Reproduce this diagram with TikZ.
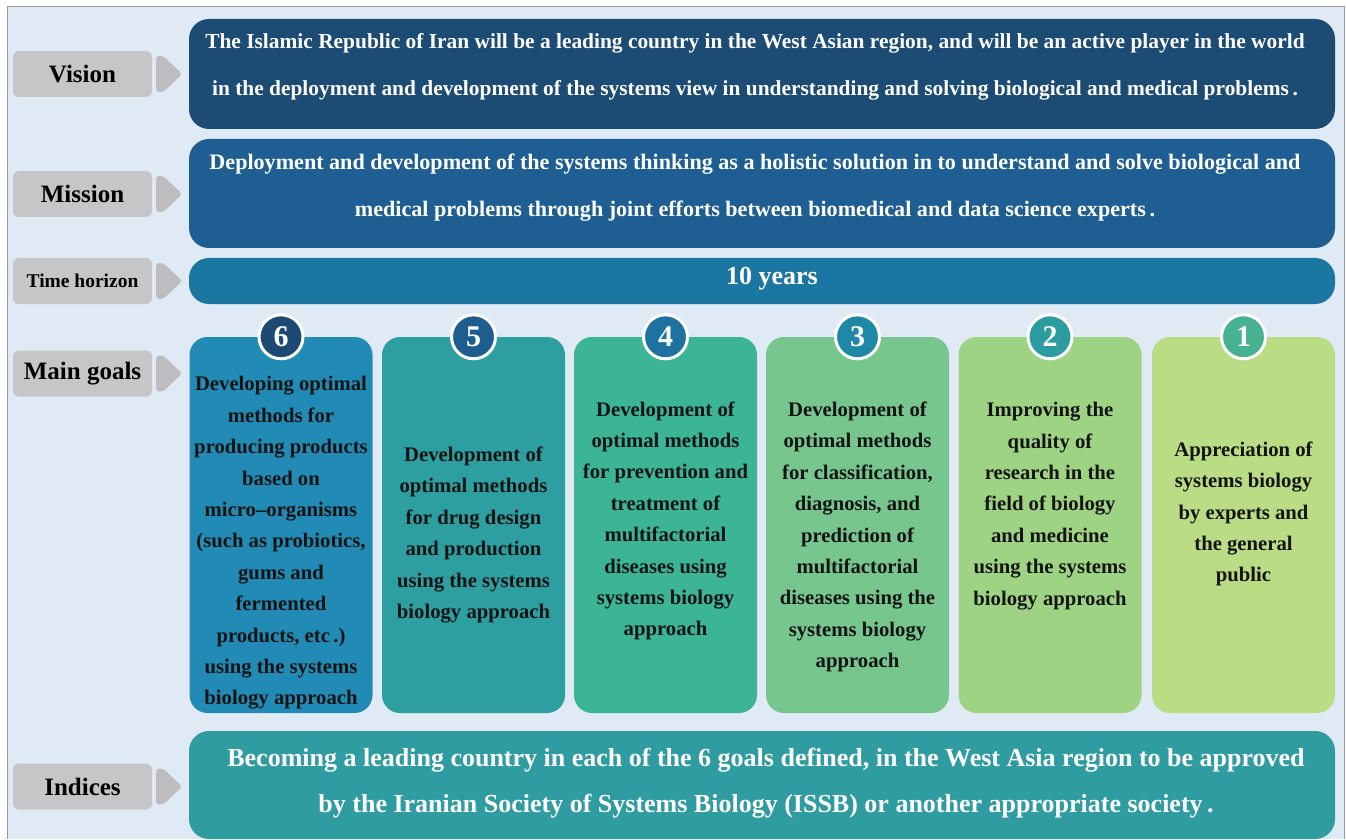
\documentclass[tikz,border=0pt]{standalone}
\usepackage{fontspec}
\setmainfont{Liberation Serif}
\begin{document}
\definecolor{pagebg}{HTML}{DFEAF5}
\definecolor{labgray}{HTML}{C6C6C8}
\definecolor{arrgray}{HTML}{BDBDBF}
\definecolor{cvision}{HTML}{1C4B74}
\definecolor{cmission}{HTML}{1F5E92}
\definecolor{ctime}{HTML}{1B76A1}
\definecolor{cgsix}{HTML}{218AB5}
\definecolor{cgfive}{HTML}{2E9FA1}
\definecolor{cgfour}{HTML}{3CB496}
\definecolor{cgthree}{HTML}{76C68E}
\definecolor{cgtwo}{HTML}{9FD384}
\definecolor{cgone}{HTML}{BADC84}
\definecolor{cnsix}{HTML}{1C4A75}
\definecolor{cnfive}{HTML}{1E5D8F}
\definecolor{cnfour}{HTML}{1D72A1}
\definecolor{cnthree}{HTML}{1E88A6}
\definecolor{cntwo}{HTML}{2B9C9F}
\definecolor{cnone}{HTML}{46B291}
\definecolor{cindex}{HTML}{2E9CA0}
\begin{tikzpicture}[x=1pt,y=-1pt,
  lab/.style={fill=labgray,rounded corners=6pt,minimum width=139pt,minimum height=46pt,inner sep=0pt,
    font=\fontsize{25}{25}\selectfont\bfseries},
  pointer/.style={fill=arrgray,rounded corners=3pt},
  band/.style={rounded corners=20pt,inner sep=0pt,minimum width=1146pt},
  bandtext/.style={text=white,align=center,font=\fontsize{21.4}{46.5}\selectfont\bfseries},
  card/.style={rounded corners=18pt,inner sep=0pt,minimum width=183pt,minimum height=376pt},
  cardtext/.style={align=center,font=\fontsize{20.7}{31.4}\selectfont\bfseries,text=black!92},
  badge/.style={circle,draw=white,line width=3pt,minimum size=44pt,inner sep=0pt,text=white,
    font=\fontsize{30}{30}\selectfont\bfseries}]
% page and frame
\fill[white] (0,0) rectangle (1346,839);
\fill[pagebg] (7,7) rectangle (1344,839);
\draw[gray!80,line width=1pt] (7,839) -- (7,7) -- (1344,7) -- (1344,839);
\useasboundingbox (0,0) rectangle (1346,839);

% row labels
\node[lab] (lvision) at (82.5,74) {Vision};
\node[lab] (lmission) at (82.5,194) {Mission};
\node[lab,font=\fontsize{19.5}{19.5}\selectfont\bfseries] (ltime) at (82.5,281) {Time horizon};
\node[lab] (lgoals) at (82.5,373.5) {Main goals};
\node[lab] (lindex) at (82.5,786.5) {Indices};

% pointers beside the labels
\foreach \n in {lvision,lmission,ltime,lgoals,lindex}{
  \path[pointer] ([xshift=4pt,yshift=18pt]\n.east) -- ([xshift=11pt,yshift=18pt]\n.east)
    -- ([xshift=30pt]\n.east) -- ([xshift=11pt,yshift=-18pt]\n.east)
    -- ([xshift=4pt,yshift=-18pt]\n.east) -- cycle;
}

% bands
\node[band,fill=cvision,minimum height=110pt] (bvision) at (762,74) {};
\node[bandtext] (tvision) at (755,67) {The Islamic Republic of Iran will be a leading country in the West Asian region, and will be an active player in the world\\in the deployment and development of the systems view in understanding and solving biological and medical problems\,.};
\node[band,fill=cmission,minimum height=109pt] (bmission) at (762,193.5) {};
\node[bandtext,font=\fontsize{22.1}{47}\selectfont\bfseries] (tmission) at (755,187.5) {Deployment and development of the systems thinking as a holistic solution in to understand and solve biological and\\medical problems through joint efforts between biomedical and data science experts\,.};
\node[band,fill=ctime,minimum height=46pt] (btime) at (762,281) {};
\node[bandtext,font=\fontsize{26}{26}\selectfont\bfseries] (ttime) at (772,279) {10 years};

% goal cards
\foreach \i/\cx/\fc/\nc in {6/281/cgsix/cnsix,5/473.5/cgfive/cnfive,4/665.5/cgfour/cnfour,
    3/857.5/cgthree/cnthree,2/1050/cgtwo/cntwo,1/1243.5/cgone/cnone}{
  \node[card,fill=\fc] (card\i) at (\cx,525) {};
  \node[badge,fill=\nc] (num\i) at (card\i.north) {\i};
}
\node[cardtext] (g6) at (card6.center|-0,543) {Developing optimal\\methods for\\producing products\\based on\\micro–organisms\\(such as probiotics,\\gums and\\fermented\\products, etc\,.)\\using the systems\\biology approach};
\node[cardtext] (g5) at (card5.center|-0,535) {Development of\\optimal methods\\for drug design\\and production\\using the systems\\biology approach};
\node[cardtext] (g4) at (card4.center|-0,521) {Development of\\optimal methods\\for prevention and\\treatment of\\multifactorial\\diseases using\\systems biology\\approach};
\node[cardtext] (g3) at (card3.center|-0,537) {Development of\\optimal methods\\for classification,\\diagnosis, and\\prediction of\\multifactorial\\diseases using the\\systems biology\\approach};
\node[cardtext] (g2) at (card2.center|-0,506) {Improving the\\quality of\\research in the\\field of biology\\and medicine\\using the systems\\biology approach};
\node[cardtext] (g1) at (card1.center|-0,514) {Appreciation of\\systems biology\\by experts and\\the general\\public};

% indices band
\node[band,fill=cindex,minimum height=108pt] (bindex) at (762,785) {};
\node[bandtext,font=\fontsize{26}{46}\selectfont\bfseries] (tindex) at (766,783) {Becoming a leading country in each of the 6 goals defined, in the West Asia region to be approved\\by the Iranian Society of Systems Biology (ISSB) or another appropriate society\,.};
\end{tikzpicture}
\end{document}
